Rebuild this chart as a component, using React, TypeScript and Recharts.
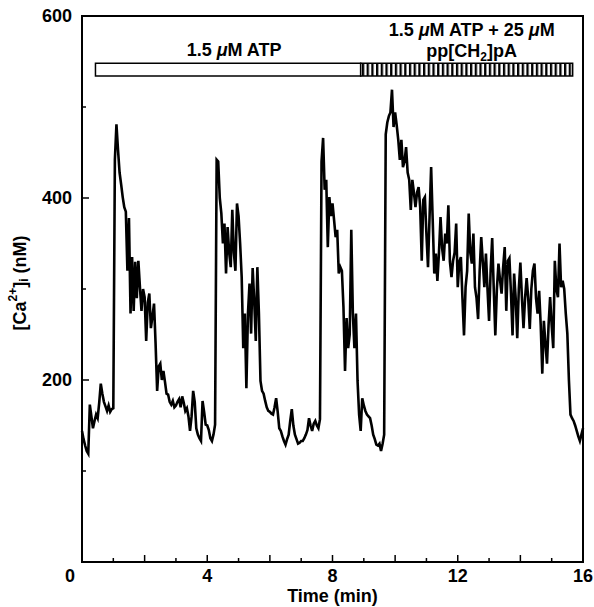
import { LineChart, Line, XAxis, YAxis, ReferenceArea } from 'recharts';

// [Ca2+]i trace, one reading every 0.05 min, one row per minute (nM)
const SAMPLE_STEP = 0.05;
const calcium = [
    144, 135, 128, 122, 119, 173, 160, 147, 155, 162, 158, 175, 196, 185, 176, 171, 166, 172, 165, 168,
    169, 442, 481, 453, 428, 415, 401, 390, 385, 320, 378, 273, 335, 276, 330, 290, 331, 302, 276, 300,
    291, 243, 285, 295, 257, 270, 284, 240, 188, 215, 218, 200, 210, 198, 185, 184, 176, 173, 177, 170,
    172, 176, 179, 170, 182, 175, 166, 169, 160, 144, 160, 188, 176, 147, 140, 136, 133, 177, 165, 151,
    150, 145, 136, 133, 140, 151, 442, 440, 400, 383, 350, 372, 317, 368, 340, 324, 387, 340, 320, 394,
    380, 350, 313, 235, 273, 191, 273, 306, 251, 323, 287, 243, 324, 273, 199, 188, 185, 177, 170, 166,
    165, 163, 162, 170, 180, 165, 147, 144, 138, 133, 129, 135, 140, 155, 168, 150, 140, 135, 130, 131,
    133, 133, 136, 140, 145, 158, 150, 144, 152, 155, 150, 147, 157, 440, 466, 409, 420, 346, 401, 380,
    394, 376, 357, 365, 317, 324, 320, 280, 210, 268, 235, 250, 365, 273, 235, 273, 199, 162, 144, 180,
    172, 166, 162, 160, 158, 150, 140, 135, 129, 128, 130, 122, 130, 140, 470, 483, 490, 494, 519, 478,
    494, 480, 464, 442, 464, 434, 440, 456, 428, 420, 387, 420, 406, 390, 406, 412, 390, 331, 398, 401,
    360, 324, 380, 434, 376, 317, 339, 309, 340, 379, 345, 331, 361, 350, 392, 330, 313, 331, 340, 372,
    302, 330, 335, 290, 249, 302, 320, 383, 340, 328, 361, 302, 290, 267, 320, 357, 330, 302, 339, 300,
    265, 320, 356, 300, 249, 300, 328, 310, 295, 324, 346, 276, 331, 334, 295, 249, 317, 290, 246, 300,
    329, 290, 257, 290, 312, 290, 256, 300, 320, 328, 290, 273, 298, 260, 207, 265, 240, 218, 260, 291,
    260, 235, 331, 300, 291, 350, 302, 309, 300, 273, 251, 200, 162, 158, 155, 150, 144, 138, 133, 140,
    147,
];

const xTicks = [0, 1, 2, 3, 4, 5, 6, 7, 8, 9, 10, 11, 12, 13, 14, 15, 16];
const xLabelled = [0, 4, 8, 12, 16];
const yTicks = [0, 100, 200, 300, 400, 500, 600];
const yLabelled = [200, 400, 600];

// application periods (min)
const atpPeriod = [0.43, 8.9];
const analoguePeriod = [8.9, 15.67];
const barSpan = [534, 548];

const data = calcium.map((v, i) => ({ time: +(i * SAMPLE_STEP).toFixed(2), ca: v }));

const FONT = 'Liberation Sans, Arial, Helvetica, sans-serif';
const txt = { fontFamily: FONT, fontWeight: 700, fontSize: 18, fill: '#000' };

const XTick = (props: any) => {
    const { x, y, payload } = props;
    const v = payload.value;
    const len = v % 2 === 0 ? 7 : 4;
    return (
        <g>
            <line x1={x} x2={x} y1={y} y2={y - len} stroke="#000" strokeWidth={1.5} />
            {xLabelled.includes(v) && (
                <text x={v === 0 ? x - 12 : x} y={y + 20} textAnchor="middle" {...txt}>{v}</text>
            )}
        </g>
    );
};

const YTick = (props: any) => {
    const { x, y, payload } = props;
    const v = payload.value;
    const len = v % 200 === 0 ? 7 : 4;
    return (
        <g>
            <line x1={x} x2={x + len} y1={y} y2={y} stroke="#000" strokeWidth={1.5} />
            {yLabelled.includes(v) && (
                <text x={x - 10} y={y + 6} textAnchor="end" {...txt}>{v}</text>
            )}
        </g>
    );
};

const YTitle = (props: any) => {
    const { x, y, height } = props.viewBox;
    const cx = x + 20;
    const cy = y + height / 2 - 6;
    return (
        <text x={cx} y={cy} transform={`rotate(-90, ${cx}, ${cy})`} textAnchor="middle" dominantBaseline="central" {...txt}>
            [Ca<tspan dy={-7} fontSize={12}>2+</tspan><tspan dy={7}>]</tspan>
            <tspan dy={4} fontSize={12}>i</tspan><tspan dy={-4}> (nM)</tspan>
        </text>
    );
};

const XTitle = (props: any) => {
    const { x, y, width } = props.viewBox;
    return (
        <text x={x + width / 2} y={y + 40} textAnchor="middle" {...txt}>Time (min)</text>
    );
};

const AtpCaption = (props: any) => {
    const { x, y, width } = props.viewBox;
    return (
        <text x={x + width / 2 + 6} y={y - 7} textAnchor="middle" {...txt}>
            1.5 <tspan fontStyle="italic">μ</tspan>M ATP
        </text>
    );
};

const AnalogueCaption = (props: any) => {
    const { x, y, width } = props.viewBox;
    const cx = x + width / 2 + 5;
    return (
        <g>
            <text x={cx} y={y - 27} textAnchor="middle" {...txt}>
                1.5 <tspan fontStyle="italic">μ</tspan>M ATP + 25 <tspan fontStyle="italic">μ</tspan>M
            </text>
            <text x={cx} y={y - 6} textAnchor="middle" {...txt}>
                pp[CH<tspan dy={4} fontSize={12}>2</tspan><tspan dy={-4}>]pA</tspan>
            </text>
        </g>
    );
};

export default function App() {
    return (
        <div style={{ position: 'absolute', left: 0, top: 0, background: '#fff' }}>
            <LineChart width={594} height={607} data={data} margin={{ top: 16, right: 11, bottom: 15, left: 0 }}>
                <defs>
                    <pattern id="hatch" patternUnits="userSpaceOnUse" width={4.7} height={10}>
                        <rect x={0} y={0} width={4.7} height={10} fill="#fff" />
                        <rect x={0} y={0} width={2.3} height={10} fill="#000" />
                    </pattern>
                </defs>
                <XAxis
                    dataKey="time"
                    type="number"
                    domain={[0, 16]}
                    ticks={xTicks}
                    interval={0}
                    height={30}
                    tickSize={0}
                    tickMargin={0}
                    tick={<XTick />}
                    axisLine={{ stroke: '#000', strokeWidth: 2 }}
                    label={{ content: XTitle }}
                />
                <YAxis
                    type="number"
                    domain={[0, 600]}
                    ticks={yTicks}
                    interval={0}
                    width={82}
                    tickSize={0}
                    tickMargin={0}
                    tick={<YTick />}
                    axisLine={{ stroke: '#000', strokeWidth: 2 }}
                    label={{ content: YTitle }}
                />
                <ReferenceArea x1={0} x2={16} y1={0} y2={600} fill="none" fillOpacity={0} stroke="#000" strokeWidth={2} />
                <ReferenceArea
                    x1={atpPeriod[0]}
                    x2={atpPeriod[1]}
                    y1={barSpan[0]}
                    y2={barSpan[1]}
                    fill="#fff"
                    fillOpacity={1}
                    stroke="#000"
                    strokeWidth={1.5}
                    label={{ content: AtpCaption }}
                />
                <ReferenceArea
                    x1={analoguePeriod[0]}
                    x2={analoguePeriod[1]}
                    y1={barSpan[0]}
                    y2={barSpan[1]}
                    fill="url(#hatch)"
                    fillOpacity={1}
                    stroke="#000"
                    strokeWidth={1.5}
                    label={{ content: AnalogueCaption }}
                />
                <Line
                    type="linear"
                    dataKey="ca"
                    stroke="#000"
                    strokeWidth={2.6}
                    dot={false}
                    isAnimationActive={false}
                />
            </LineChart>
        </div>
    );
}
